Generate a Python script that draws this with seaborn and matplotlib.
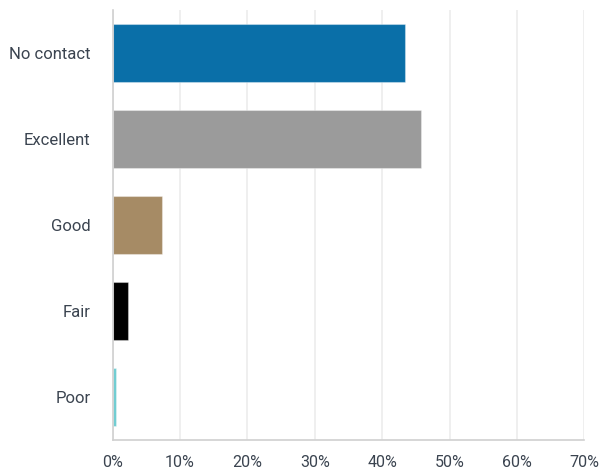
import matplotlib
matplotlib.use("Agg")
import matplotlib.pyplot as plt
from matplotlib.ticker import FuncFormatter
import pandas as pd
import seaborn as sns

categories = ["No contact", "Excellent", "Good", "Fair", "Poor"]
percentages = [43.3, 45.7, 7.3, 2.2, 0.45]
colors = ["#0a6fa8", "#9b9b9b", "#a68b65", "#000000", "#6fcdd2"]
x_ticks = [0, 10, 20, 30, 40, 50, 60, 70]

df = pd.DataFrame({"category": categories, "pct": percentages})

sns.set_theme(style="white")
plt.rcParams["font.family"] = ["Roboto", "DejaVu Sans"]

fig = plt.figure(figsize=(6.01, 4.74), dpi=100)
ax = fig.add_axes([0.1875, 0.0717, 0.785, 0.9073])

sns.barplot(data=df, x="pct", y="category", hue="category", palette=colors,
            legend=False, width=0.685, ax=ax, saturation=1)

# thin light rim around each bar
for patch in ax.patches:
    patch.set_edgecolor((1, 1, 1, 0.35))
    patch.set_linewidth(0.8)

ax.set_xlim(0, 70)
ax.set_ylim(4.5, -0.5)
ax.set_xticks(x_ticks)
ax.xaxis.set_major_formatter(FuncFormatter(lambda v, _: f"{v:.0f}%"))
ax.grid(axis="x", color="#ececec", linewidth=1.2)
ax.set_axisbelow(True)
ax.set_xlabel("")
ax.set_ylabel("")

for side in ["top", "right"]:
    ax.spines[side].set_visible(False)
for side in ["left", "bottom"]:
    ax.spines[side].set_color("#d0d0d0")
    ax.spines[side].set_linewidth(1.2)

ax.tick_params(axis="y", length=0, pad=16, labelsize=12, labelcolor="#3b4450")
ax.tick_params(axis="x", length=0, pad=11, labelsize=11.5, labelcolor="#3b4450")

fig.savefig("out.png", dpi=100)
